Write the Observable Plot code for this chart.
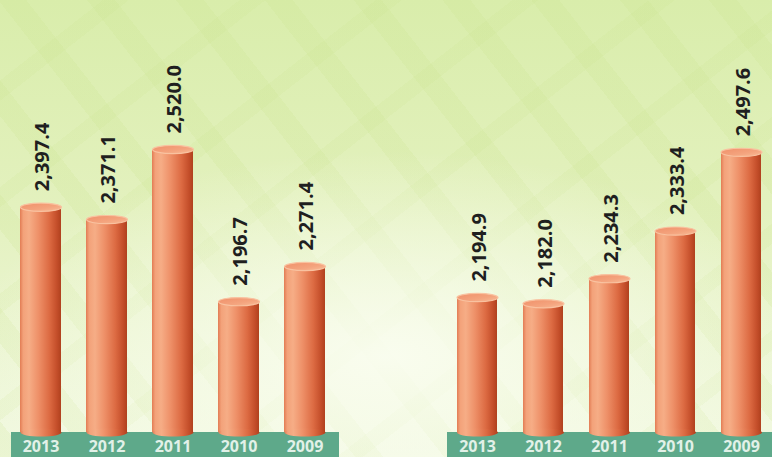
<!DOCTYPE html>
<html>
<head>
<meta charset="utf-8">
<script src="https://cdn.jsdelivr.net/npm/d3@7"></script>
<script src="https://cdn.jsdelivr.net/npm/@observablehq/plot@0.6"></script>
<style>
  html, body { margin: 0; padding: 0; }
  #wrap {
    position: relative; width: 772px; height: 457px; overflow: hidden;
    background:
      radial-gradient(ellipse 55% 45% at 50% 78%, rgba(250,253,240,0.95), rgba(250,253,240,0) 100%),
      repeating-linear-gradient(52deg, rgba(200,226,138,0.18) 0 22px, rgba(0,0,0,0) 22px 70px),
      repeating-linear-gradient(-38deg, rgba(200,226,138,0.14) 0 16px, rgba(0,0,0,0) 16px 84px),
      linear-gradient(#d9edab, #e3f1be 45%, #f2f9e2);
  }
  #wrap > div { position: absolute; top: 0; }
  #left { left: 0; }
  #right { left: 386px; }
</style>
</head>
<body>
<div id="wrap"><div id="left"></div><div id="right"></div></div>
<script>
// ---- data ----
const years = ["2013", "2012", "2011", "2010", "2009"];
const leftValues = [2397.4, 2371.1, 2520.0, 2196.7, 2271.4];
const rightValues = [2194.9, 2182.0, 2234.3, 2333.4, 2497.6];

const fmt = d3.format(",.1f");

// ellipse symbol (cylinder caps)
const ellipse = {
  draw(ctx, size) {
    const rx = Math.sqrt(size / Math.PI), ry = rx * 0.2, k = 0.5523;
    ctx.moveTo(rx, 0);
    ctx.bezierCurveTo(rx, ry * k, rx * k, ry, 0, ry);
    ctx.bezierCurveTo(-rx * k, ry, -rx, ry * k, -rx, 0);
    ctx.bezierCurveTo(-rx, -ry * k, -rx * k, -ry, 0, -ry);
    ctx.bezierCurveTo(rx * k, -ry, rx, -ry * k, rx, 0);
    ctx.closePath();
  }
};

function panel(values, opts, id) {
  const data = years.map((y, i) => ({year: y, value: values[i]}));
  const base = opts.yDomain[0];
  const gid = "cyl" + id, cid = "cap" + id;
  const plot = Plot.plot({
    width: 386,
    height: 457,
    marginLeft: opts.marginLeft,
    marginRight: opts.marginRight,
    marginTop: 20,
    marginBottom: 25,
    style: {background: "transparent", overflow: "hidden"},
    x: {domain: years, range: opts.xRange, paddingInner: opts.pi, paddingOuter: opts.pi / 2},
    y: {domain: opts.yDomain, range: [432, opts.yTop], axis: null},
    marks: [
      // green strip
      Plot.rect([0], {y1: base, y2: base - 100, fill: "#5ea98a"}),
      Plot.axisX({tickSize: 0, tickPadding: 8, fontSize: 16, fontWeight: 700,
                  fontFamily: "Open Sans", fill: "#e2f1e8", label: null}),
      // cylinders
      Plot.barY(data, {x: "year", y1: base, y2: "value", fill: `url(#${gid})`}),
      Plot.dot(data, {x: "year", y: () => base, r: 20.5, symbol: ellipse, fill: `url(#${gid})`}),
      Plot.dot(data, {x: "year", y: "value", r: 20.5, symbol: ellipse,
                      fill: `url(#${cid})`, stroke: "#f9c2a0", strokeWidth: 1.2}),
      // value labels
      Plot.text(data, {x: "year", y: "value", text: d => fmt(d.value), rotate: -90,
                       textAnchor: "start", dy: -16, dx: 2, fontSize: 20, fontWeight: 700,
                       fontFamily: "Open Sans", fill: "#1f1f1f"})
    ]
  });
  const svg = d3.select(plot);
  const defs = svg.insert("defs", ":first-child");
  const g = defs.append("linearGradient").attr("id", gid)
    .attr("x1", "0%").attr("x2", "100%").attr("y1", "0%").attr("y2", "0%");
  [["0%", "#e27c54"], ["8%", "#f3a27a"], ["22%", "#f6ad86"], ["45%", "#ee9068"],
   ["72%", "#dc6a42"], ["90%", "#c44e2a"], ["100%", "#b0411e"]]
    .forEach(([o, c]) => g.append("stop").attr("offset", o).attr("stop-color", c));
  const c = defs.append("linearGradient").attr("id", cid)
    .attr("x1", "0%").attr("x2", "100%").attr("y1", "0%").attr("y2", "100%");
  [["0%", "#f0906a"], ["60%", "#f4a47e"], ["100%", "#f8bd98"]]
    .forEach(([o, col]) => c.append("stop").attr("offset", o).attr("stop-color", col));
  document.getElementById(id).appendChild(plot);
}

panel(leftValues, {marginLeft: 11, marginRight: 47, xRange: [6.2, 339.3], pi: 0.3846,
                   yDomain: [1918.6, 2600], yTop: 111.4}, "left");
panel(rightValues, {marginLeft: 61, marginRight: 0, xRange: [56, 390], pi: 0.3869,
                    yDomain: [1913.7, 2600], yTop: 102.7}, "right");
</script>
</body>
</html>
